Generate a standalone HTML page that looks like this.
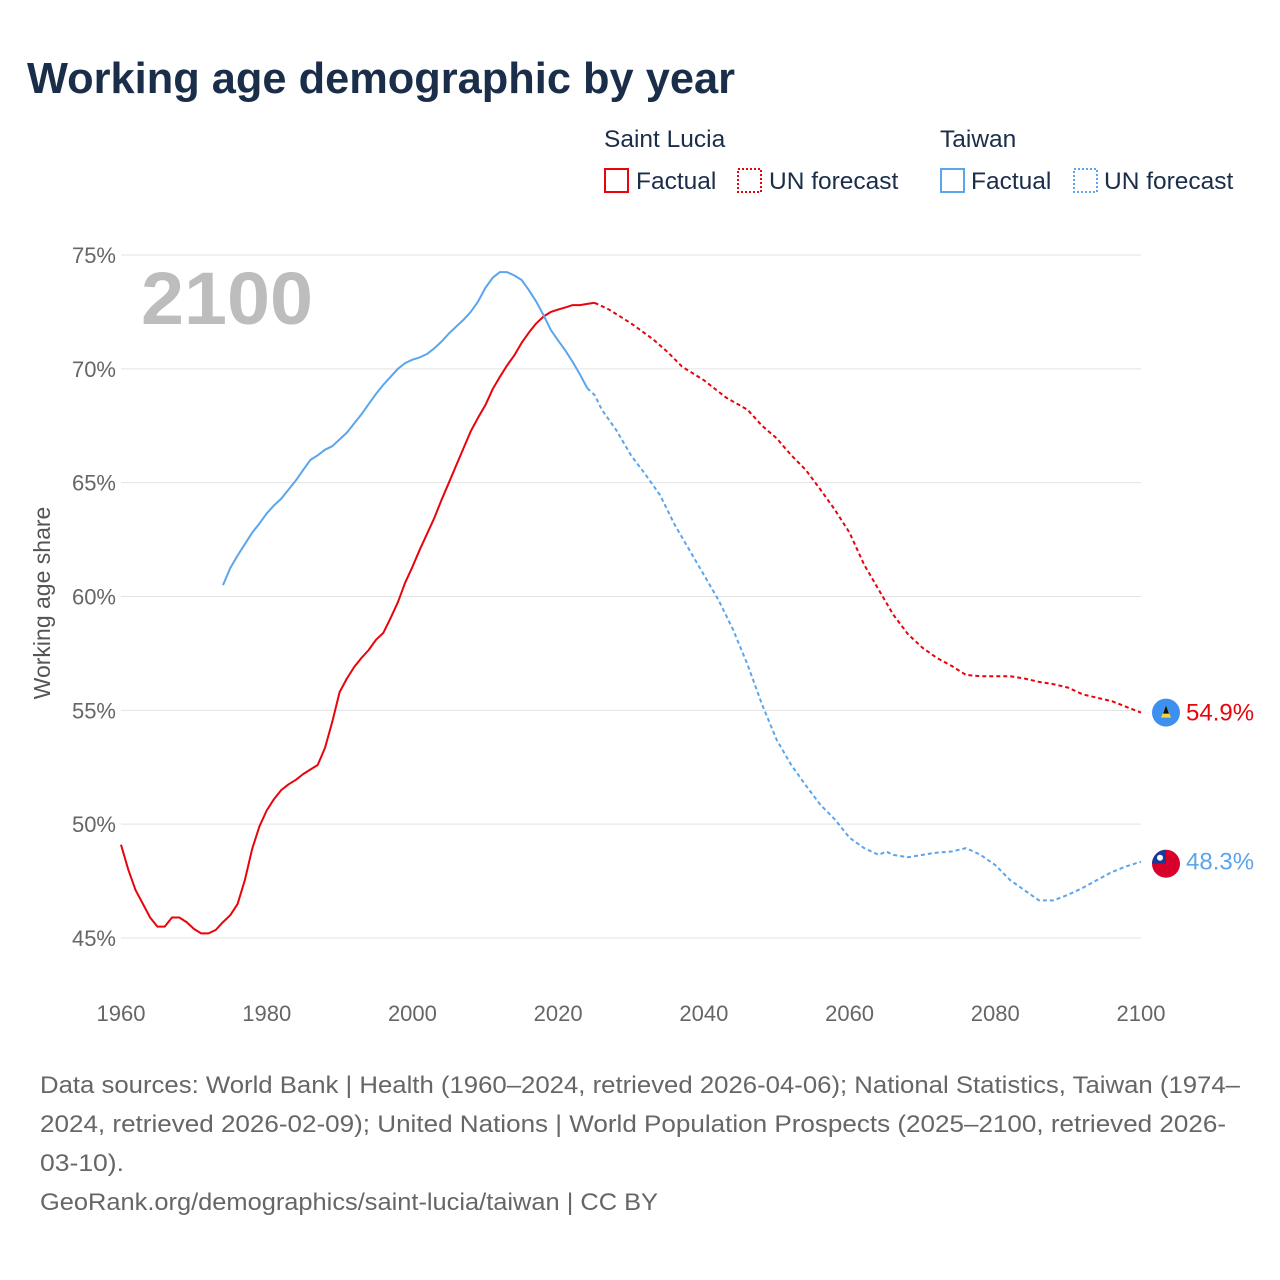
<!DOCTYPE html>
<html><head><meta charset="utf-8">
<style>
body{margin:0;background:#fff;font-family:"Liberation Sans",sans-serif;}
</style></head>
<body>
<svg id="chart" width="1280" height="1280" xmlns="http://www.w3.org/2000/svg" style="display:block">
<text x="27" y="93" font-size="44" font-weight="bold" fill="#1a2e4a" textLength="708" lengthAdjust="spacingAndGlyphs">Working age demographic by year</text>
<g font-size="24.5" fill="#1a2e4a">
<text x="604" y="147">Saint Lucia</text>
<rect x="605" y="169" width="23" height="23" fill="none" stroke="#e8040a" stroke-width="2"/>
<text x="636" y="189">Factual</text>
<rect x="738" y="169" width="23" height="23" fill="none" stroke="#e8040a" stroke-width="2" stroke-dasharray="2,2"/>
<text x="769" y="189">UN forecast</text>
<text x="940" y="147">Taiwan</text>
<rect x="941" y="169" width="23" height="23" fill="none" stroke="#5aa5ec" stroke-width="2"/>
<text x="971" y="189">Factual</text>
<rect x="1074" y="169" width="23" height="23" fill="none" stroke="#5aa5ec" stroke-width="2" stroke-dasharray="2,2"/>
<text x="1104" y="189">UN forecast</text>
</g>
<text transform="translate(50,603) rotate(-90)" text-anchor="middle" font-size="23" fill="#555">Working age share</text>
<text x="141" y="324" font-size="74" font-weight="bold" fill="#bdbdbd" textLength="172" lengthAdjust="spacingAndGlyphs">2100</text>
<g id="grid"></g><g id="axes"></g><g id="lines"></g>
<g font-size="24" fill="#666">
<text x="40" y="1093" textLength="1200" lengthAdjust="spacingAndGlyphs">Data sources: World Bank | Health (1960–2024, retrieved 2026-04-06); National Statistics, Taiwan (1974–</text>
<text x="40" y="1132" textLength="1186" lengthAdjust="spacingAndGlyphs">2024, retrieved 2026-02-09); United Nations | World Population Prospects (2025–2100, retrieved 2026-</text>
<text x="40" y="1171" textLength="84" lengthAdjust="spacingAndGlyphs">03-10).</text>
<text x="40" y="1210" textLength="618" lengthAdjust="spacingAndGlyphs">GeoRank.org/demographics/saint-lucia/taiwan | CC BY</text>
</g>
</svg>
<script>
const xTicks=[1960,1980,2000,2020,2040,2060,2080,2100];
const yTicks=[45,50,55,60,65,70,75];
const slFactYears=[1960,1961,1962,1963,1964,1965,1966,1967,1968,1969,1970,1971,1972,1973,1974,1975,1976,1977,1978,1979,1980,1981,1982,1983,1984,1985,1986,1987,1988,1989,1990,1991,1992,1993,1994,1995,1996,1997,1998,1999,2000,2001,2002,2003,2004,2005,2006,2007,2008,2009,2010,2011,2012,2013,2014,2015,2016,2017,2018,2019,2020,2021,2022,2023,2024,2025];
const slFactVals=[49.1,48.0,47.1,46.5,45.9,45.5,45.5,45.9,45.9,45.7,45.4,45.2,45.2,45.35,45.7,46.0,46.5,47.55,48.9,49.9,50.6,51.1,51.5,51.75,51.95,52.2,52.4,52.6,53.35,54.5,55.8,56.4,56.9,57.3,57.65,58.1,58.4,59.05,59.75,60.6,61.3,62.05,62.75,63.45,64.25,65.0,65.75,66.5,67.25,67.85,68.4,69.1,69.65,70.15,70.6,71.15,71.6,72.0,72.3,72.5,72.6,72.7,72.8,72.8,72.85,72.9];
const slFcYears=[2025,2026,2027,2030,2033,2035,2037,2040,2043,2046,2048,2050,2052,2054,2056,2058,2060,2062,2064,2066,2068,2070,2072,2074,2076,2078,2080,2082,2084,2086,2088,2090,2092,2094,2096,2098,2100];
const slFcVals=[72.9,72.75,72.6,72.0,71.3,70.75,70.1,69.5,68.75,68.2,67.5,66.95,66.2,65.55,64.7,63.8,62.8,61.4,60.3,59.2,58.35,57.75,57.3,56.95,56.55,56.5,56.5,56.5,56.4,56.25,56.15,56.0,55.7,55.55,55.4,55.15,54.9];
const twFactYears=[1974,1975,1976,1977,1978,1979,1980,1981,1982,1983,1984,1985,1986,1987,1988,1989,1990,1991,1992,1993,1994,1995,1996,1997,1998,1999,2000,2001,2002,2003,2004,2005,2006,2007,2008,2009,2010,2011,2012,2013,2014,2015,2016,2017,2018,2019,2020,2021,2022,2023,2024];
const twFactVals=[60.5,61.25,61.8,62.3,62.8,63.2,63.65,64.0,64.3,64.7,65.1,65.55,66.0,66.2,66.45,66.6,66.9,67.2,67.6,68.0,68.45,68.9,69.3,69.65,70.0,70.25,70.4,70.5,70.65,70.9,71.2,71.55,71.85,72.15,72.5,72.95,73.55,74.0,74.25,74.25,74.1,73.9,73.45,72.95,72.35,71.7,71.25,70.8,70.3,69.75,69.15];
const twFcYears=[2024,2025,2026,2028,2030,2032,2034,2036,2038,2040,2042,2043,2044,2046,2048,2050,2052,2054,2056,2058,2060,2062,2064,2065,2066,2068,2070,2072,2074,2076,2078,2080,2082,2084,2086,2088,2090,2092,2094,2096,2098,2100];
const twFcVals=[69.15,68.85,68.2,67.3,66.2,65.35,64.45,63.15,62.05,60.95,59.85,59.2,58.55,57.0,55.25,53.7,52.6,51.7,50.85,50.2,49.4,48.95,48.65,48.8,48.65,48.55,48.65,48.75,48.8,48.95,48.65,48.2,47.55,47.1,46.65,46.65,46.9,47.2,47.55,47.9,48.15,48.35];

const NS="http://www.w3.org/2000/svg";
const X=y=>121+(y-1960)*(1020/140);
const Y=v=>255+(75-v)*(683/30);
function mk(tag,attrs,parent){const e=document.createElementNS(NS,tag);for(const k in attrs)e.setAttribute(k,attrs[k]);parent.appendChild(e);return e;}
const grid=document.getElementById('grid'),axes=document.getElementById('axes'),lines=document.getElementById('lines');
yTicks.forEach(t=>{
  const l=mk('line',{x1:121,x2:1141,y1:Y(t),y2:Y(t),stroke:'#e3e3e3','stroke-width':1},grid);
  
  
  const tx=mk('text',{x:116,y:Y(t)+8,'text-anchor':'end','font-size':22,fill:'#666'},axes);
  tx.textContent=t+'%';
  
  
});
xTicks.forEach(t=>{
  const tx=mk('text',{x:X(t),y:1021,'text-anchor':'middle','font-size':22,fill:'#666'},axes);
  tx.textContent=t;
  
  
});
function path(ys,vs,color,dash,name){
  const d=ys.map((y,i)=>(i?'L':'M')+X(y).toFixed(1)+','+Y(vs[i]).toFixed(1)).join(' ');
  const p=mk('path',{d:d,fill:'none',stroke:color,'stroke-width':2,'stroke-linejoin':'round'},lines);
  if(dash)p.setAttribute('stroke-dasharray','4,3');
  
  
}
path(slFactYears,slFactVals,'#e8040a',false,'saint-lucia-factual-line');
path(slFcYears,slFcVals,'#e8040a',true,'saint-lucia-forecast-line');
path(twFactYears,twFactVals,'#5aa5ec',false,'taiwan-factual-line');
path(twFcYears,twFcVals,'#5aa5ec',true,'taiwan-forecast-line');
const slEnd=slFcVals[slFcVals.length-1], twEnd=twFcVals[twFcVals.length-1];
const f1=mk('g',{},lines);


mk('circle',{cx:1166,cy:Y(slEnd),r:14,fill:'#3d8ff0'},f1);
mk('polygon',{points:`1166,${Y(slEnd)-7} 1161,${Y(slEnd)+5} 1171,${Y(slEnd)+5}`,fill:'#f6d43a'},f1);
mk('polygon',{points:`1166,${Y(slEnd)-7} 1163,${Y(slEnd)+1} 1169,${Y(slEnd)+1}`,fill:'#111'},f1);
const f2=mk('g',{},lines);


mk('circle',{cx:1166,cy:Y(twEnd)+2,r:14,fill:'#d8002b'},f2);
mk('path',{d:`M1152,${Y(twEnd)+2} A14,14 0 0 1 1166,${Y(twEnd)-12} L1166,${Y(twEnd)+2} Z`,fill:'#1a3a9a'},f2);
mk('circle',{cx:1160,cy:Y(twEnd)-4,r:3,fill:'#fff'},f2);
const l1=mk('text',{x:1186,y:Y(slEnd)+8,'font-size':24,fill:'#e8040a'},lines);
l1.textContent=slEnd.toFixed(1)+'%';


const l2=mk('text',{x:1186,y:Y(twEnd)+8,'font-size':24,fill:'#5aa5ec'},lines);
l2.textContent='48.3%';


</script>
</body></html>
